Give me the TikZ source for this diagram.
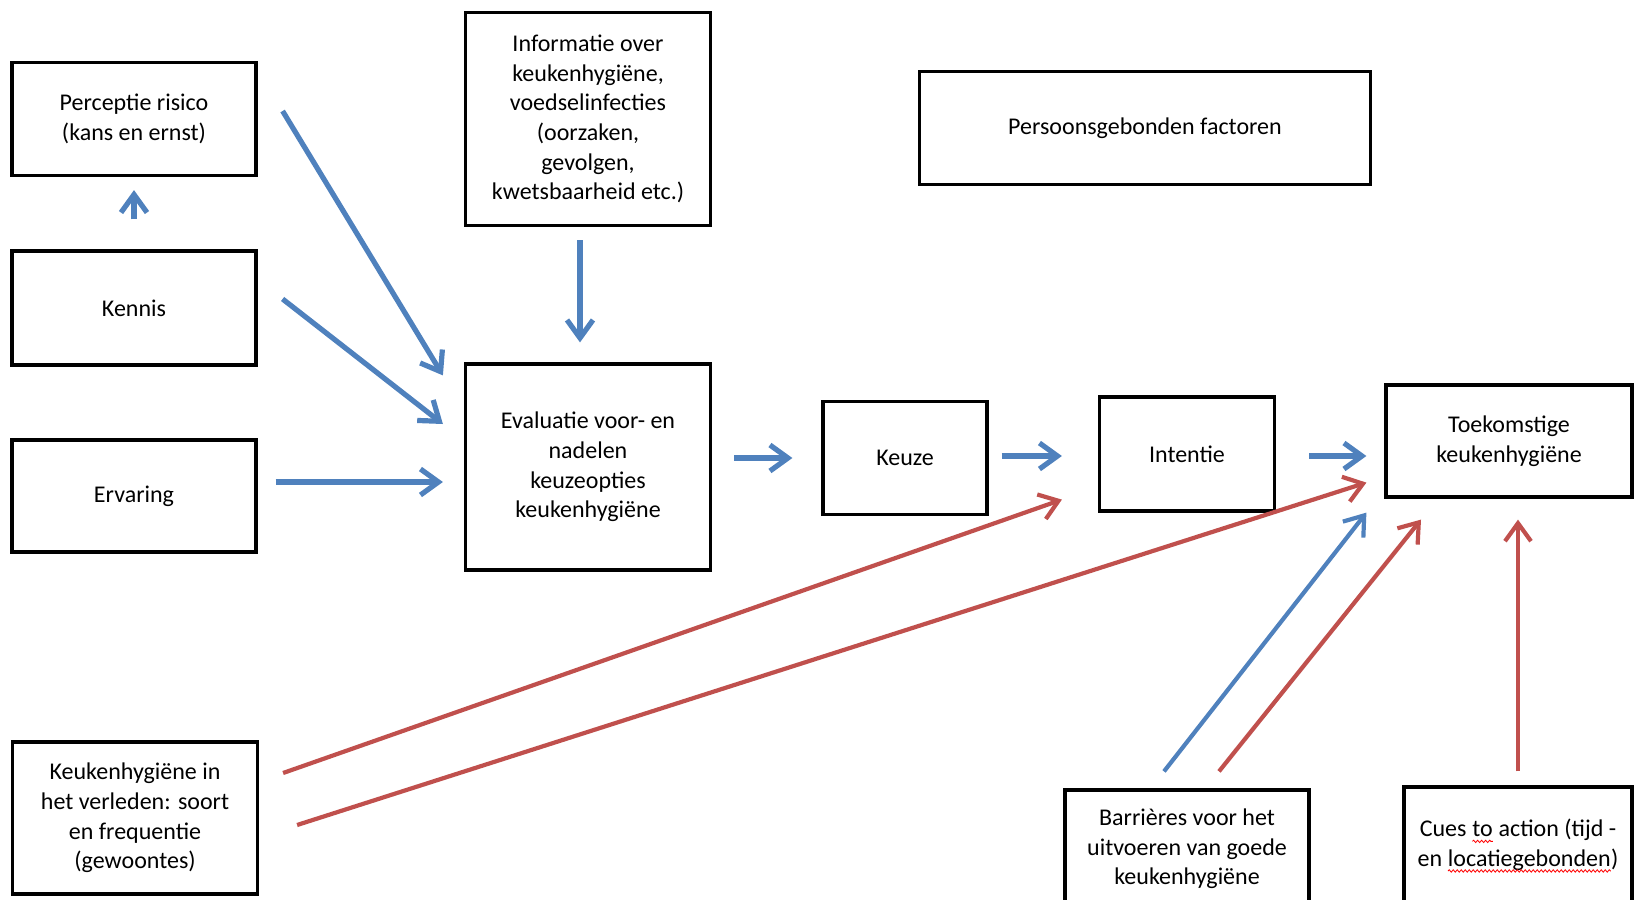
\documentclass[tikz,border=0pt]{standalone}
\usepackage{fontspec}
\setmainfont{Carlito}
\usetikzlibrary{arrows.meta, decorations.pathmorphing}
\definecolor{pijlblauw}{RGB}{79,129,189}
\definecolor{pijlrood}{RGB}{192,80,77}
\newcommand{\spelfout}[1]{\tikz[baseline=(woord.base), x=1pt, y=1pt]{\node[draw=none, inner sep=0pt, outer sep=0pt, minimum width=0pt, minimum height=0pt, align=left] (woord) {#1};
	\draw[red, line width=0.4pt, decorate, decoration={snake, amplitude=0.6pt, segment length=2pt}] ([yshift=-2.2pt]woord.base west) -- ([yshift=-2.2pt]woord.base east);}}

\begin{document}
\begin{tikzpicture}[x=0.5pt, y=-0.5pt,
	blok/.style={draw, line width=1.6pt, align=center, inner sep=0pt, font=\fontsize{12}{14.8}\selectfont},
	blauw/.style={draw=pijlblauw, line width=2.6pt, -{Straight Barb[length=9pt, width=13pt]}},
	rood/.style={draw=pijlrood, line width=2.1pt, -{Straight Barb[length=9pt, width=13pt]}}]
					\useasboundingbox (0,0) rectangle (1634,900);
					\node[blok, minimum width=122pt, minimum height=56.5pt] (Perceptie) at (134,119) {Perceptie risico\\(kans en ernst)};
					\node[blok, minimum width=122pt, minimum height=57pt] (Kennis) at (134,308) {Kennis};
					\node[blok, minimum width=122pt, minimum height=56pt] (Ervaring) at (134,496) {Ervaring};
					\node[blok, minimum width=122.5pt, minimum height=106.5pt] (Informatie) at (588,119) {Informatie over\\keukenhygiëne,\\voedselinfecties\\(oorzaken,\\gevolgen,\\kwetsbaarheid  etc.)};
					\node[blok, minimum width=122.5pt, minimum height=103pt] (Evaluatie) at (588,467) {Evaluatie voor-  en\\nadelen\\keuzeopties\\keukenhygiëne};
					\node[blok, minimum width=225.5pt, minimum height=56.5pt] (Persoon) at (1145,128) {Persoonsgebonden  factoren};
					\node[blok, minimum width=82pt, minimum height=56.5pt] (Keuze) at (905,458) {Keuze};
					\node[blok, minimum width=87.5pt, minimum height=57pt] (Intentie) at (1187,454) {Intentie};
					\node[blok, minimum width=123pt, minimum height=56pt] (Toekomst) at (1509,441) {Toekomstige\\keukenhygiëne};
					\node[blok, minimum width=122.5pt, minimum height=76pt] (Verleden) at (135,818) {Keukenhygiëne  in\\het verleden:  soort\\en frequentie\\(gewoontes)};
					\node[blok, minimum width=122pt, minimum height=59pt] (Barrieres) at (1187,849) {Barrières voor het\\uitvoeren van goede\\keukenhygiëne};
					\node[blok, minimum width=114pt, minimum height=59pt] (Cues) at (1518,846) {Cues \spelfout{to} action (tijd -\\en \spelfout{locatiegebonden})};

					\draw[blauw] ([yshift=15pt]Kennis.north) -- ([yshift=-6.5pt]Perceptie.south);
					\draw[blauw] ([xshift=12.5pt, yshift=4pt]Perceptie.east) -- ([xshift=-10.5pt, yshift=-6.5pt]Evaluatie.north west);
					\draw[blauw] ([xshift=12.5pt, yshift=4.5pt]Kennis.east) -- ([xshift=-10.5pt, yshift=21.5pt]Evaluatie.west);
					\draw[blauw] ([xshift=9pt, yshift=7pt]Ervaring.east) -- ([xshift=-10.5pt, yshift=-7.5pt]Evaluatie.west);
					\draw[blauw] ([xshift=-4pt, yshift=-6.5pt]Informatie.south) -- ([xshift=-4pt, yshift=10pt]Evaluatie.north);
					\draw[blauw] ([xshift=11pt, yshift=4.5pt]Evaluatie.east) -- ([xshift=-14.5pt]Keuze.west);
					\draw[blauw] ([xshift=6.5pt, yshift=1pt]Keuze.east) -- ([xshift=-18pt, yshift=-1pt]Intentie.west);
					\draw[blauw] ([xshift=16.5pt, yshift=-1pt]Intentie.east) -- ([xshift=-9pt, yshift=-7.5pt]Toekomst.west);

					\draw[rood] ([xshift=12pt, yshift=22.5pt]Verleden.east) -- ([xshift=-18pt, yshift=6.5pt]Intentie.south west);
					\draw[rood] ([xshift=19pt, yshift=-3.5pt]Verleden.east) -- ([xshift=-9pt, yshift=8pt]Toekomst.south west);
					\draw[blauw, line width=2.1pt] ([xshift=-11.5pt, yshift=8.5pt]Barrieres.north) -- ([xshift=-9pt, yshift=-7pt]Toekomst.south west);
					\draw[rood] ([xshift=16pt, yshift=8.5pt]Barrieres.north) -- ([xshift=-44pt, yshift=-10.5pt]Toekomst.south);
					\draw[rood] ([yshift=7pt]Cues.north) -- ([xshift=4.5pt, yshift=-10.5pt]Toekomst.south);

				\end{tikzpicture}
\end{document}
